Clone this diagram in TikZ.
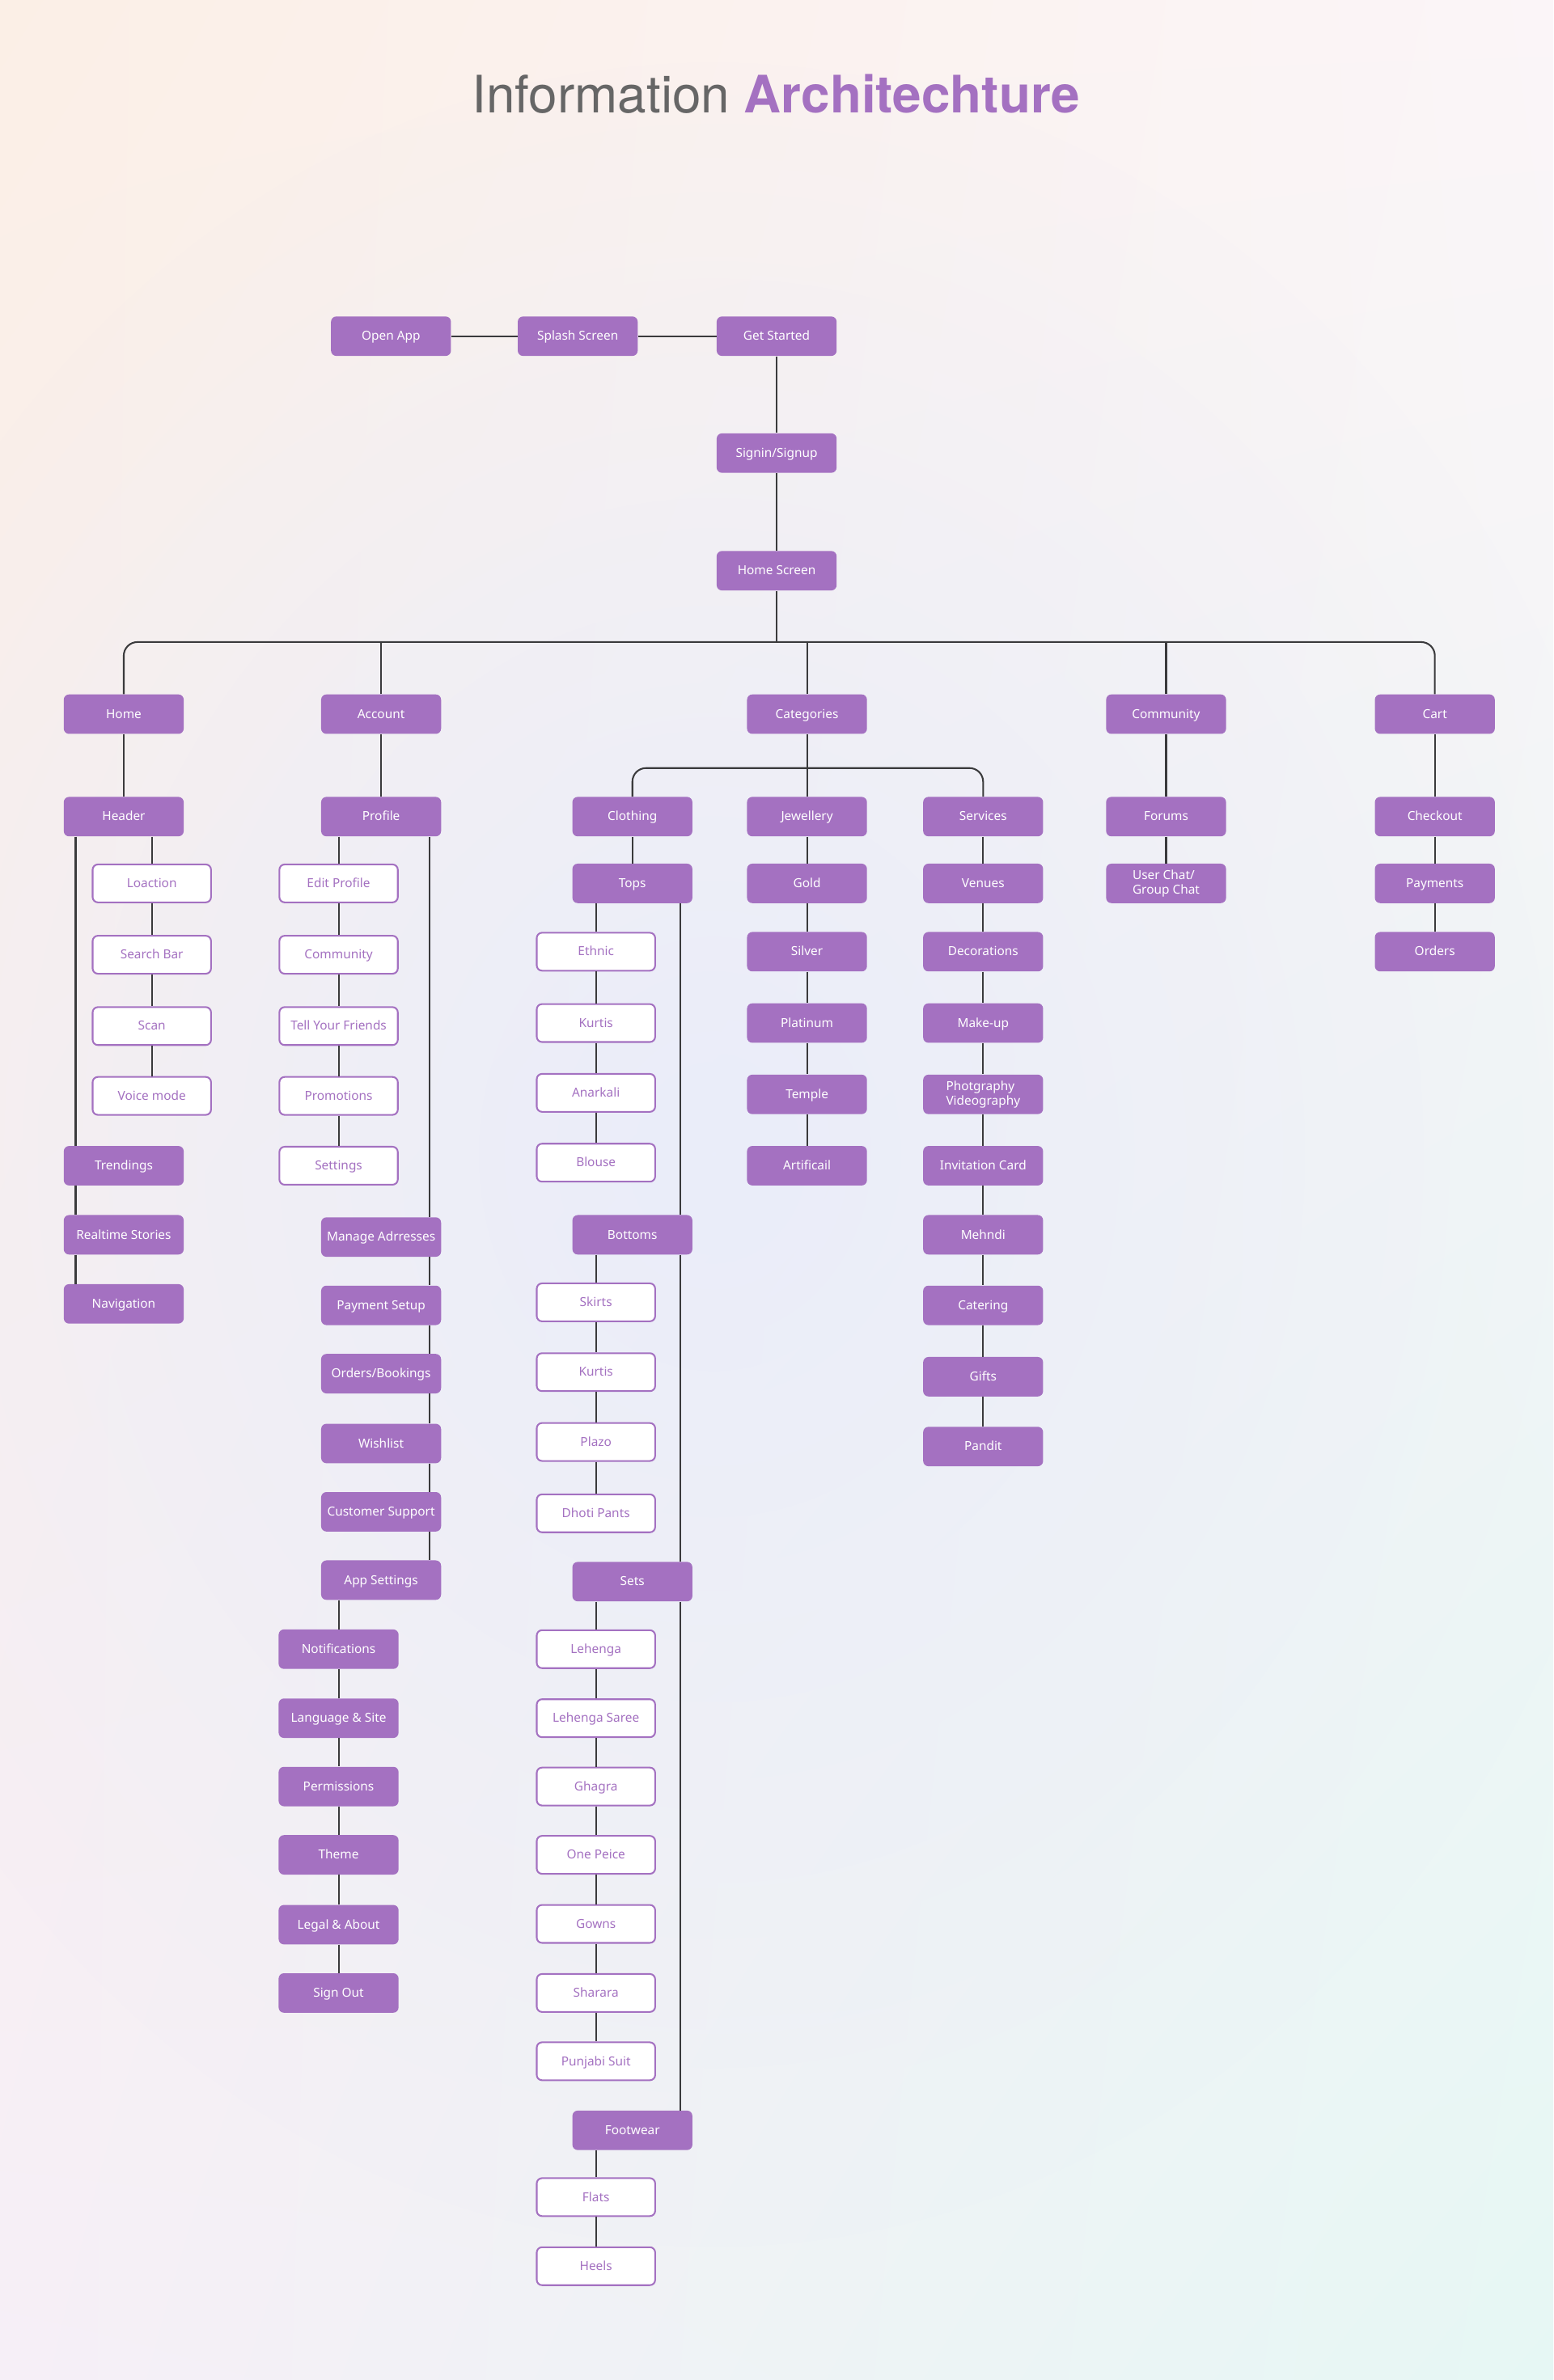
\documentclass[tikz,border=0pt]{standalone}
\usepackage{fontspec}
\setmainfont{Noto Sans}
\newfontfamily\titlefont{TeX Gyre Heros}
\usepackage{tikz}
\usetikzlibrary{calc,positioning,fadings,shadings}
\definecolor{iapurple}{RGB}{164,113,193}
\definecolor{ialine}{RGB}{58,58,60}
\definecolor{iagray}{RGB}{102,102,102}
\definecolor{bgul}{RGB}{251,239,230}
\definecolor{bgur}{RGB}{251,245,248}
\definecolor{bgll}{RGB}{246,239,247}
\definecolor{bglr}{RGB}{230,247,244}
\definecolor{bglav}{RGB}{234,237,250}
\tikzfading[name=iaglow, inner color=transparent!0, outer color=transparent!100]

\begin{document}
\begin{tikzpicture}[x=1pt,y=-1pt,
  pbox/.style={rectangle,rounded corners=3.5pt,fill=iapurple,text=white,minimum width=79pt,
    minimum height=26pt,inner sep=1pt,align=left,text height=6.4pt,text depth=0.9pt,
    font=\fontsize{8.2}{9.4}\selectfont},
  wbox/.style={pbox,fill=white,draw=iapurple,line width=1.1pt,text=iapurple,
    minimum width=78pt,minimum height=25pt},
  twoline/.style={text height={},text depth={}},
  link/.style={draw=ialine,line width=1.1pt}]
 % page and background
 \useasboundingbox (0,0) rectangle (1023,1568);
 \shade[upper left=bgul,upper right=bgur,lower left=bgll,lower right=bglr] (0,0) rectangle (1023,1568);
 \fill[bglav,path fading=iaglow] (470,760) ellipse (620 and 720);
 \node (title) at (511,62) {\titlefont\fontsize{34}{40}\selectfont
   \textcolor{iagray}{Information} \textcolor{iapurple}{\bfseries Architechture}};

 % entry
 \node[pbox] (open) at (257.5,221.5) {Open App};
 \node[pbox] (splash) at (380.5,221.5) {Splash Screen};
 \node[pbox] (start) at (511.5,221.5) {Get Started};
 \node[pbox] (sign) at (511.5,298.5) {Signin/Signup};
 \node[pbox] (hs) at (511.5,376) {Home Screen};
 \draw[link] (open) -- (splash) (splash) -- (start) (start) -- (sign) (sign) -- (hs);

 % main sections
 \coordinate (bus) at (0,423);
 \node[pbox] (home) at (81.5,470.5) {Home};
 \node[pbox] (acc) at (251,470.5) {Account};
 \node[pbox] (cat) at (531.5,470.5) {Categories};
 \node[pbox] (com) at (768,470.5) {Community};
 \node[pbox] (cart) at (945,470.5) {Cart};
 \draw[link,rounded corners=9pt] (home.north) |- (bus -| cart.north) -- (cart.north);
 \foreach \n in {acc,cat,com}
   \draw[link] (\n.north) -- (\n.north |- bus);
 \draw[link] (hs.south) -- (hs.south |- bus);

 % home
 \node[pbox] (hdr) at (81.5,538) {Header};
 \draw[link] (home) -- (hdr);
 \foreach \t/\n/\y in {Loaction/loc/582,Search Bar/srch/629,Scan/scan/676,Voice mode/voice/722}
   \node[wbox] (\n) at (100,\y) {\t};
 \foreach \t/\n/\y in {Trendings/trend/768,Realtime Stories/story/813.5,Navigation/navi/859}
   \node[pbox] (\n) at (81.5,\y) {\t};
 \draw[link] (hdr.south -| loc.north) -- (loc.north);
 \foreach \a/\b in {loc/srch,srch/scan,scan/voice}
   \draw[link] (\a) -- (\b);
 \foreach \a/\b in {hdr/trend,trend/story,story/navi}
   \draw[link] ([xshift=8pt]\a.south west) -- ([xshift=8pt]\b.north west);

 % account
 \node[pbox] (prof) at (251,538) {Profile};
 \draw[link] (acc) -- (prof);
 \foreach \t/\n/\y in {Edit Profile/edit/582,Community/comm/629,Tell Your Friends/tell/676,
     Promotions/promo/722,Settings/sett/768}
   \node[wbox] (\n) at (223,\y) {\t};
 \foreach \t/\n/\y in {Manage Adrresses/addr/815,Payment Setup/pay/860,{Orders/Bookings}/ordb/905,
     Wishlist/wish/951,Customer Support/supp/996,App Settings/apps/1041}
   \node[pbox] (\n) at (251,\y) {\t};
 \foreach \t/\n/\y in {Notifications/noti/1086.5,Language \& Site/lang/1132,Permissions/perm/1177,
     Theme/theme/1222,Legal \& About/legal/1268,Sign Out/out/1313}
   \node[pbox] (\n) at (223,\y) {\t};
 \draw[link] (prof.south -| edit.north) -- (edit.north);
 \foreach \a/\b in {edit/comm,comm/tell,tell/promo,promo/sett,noti/lang,lang/perm,perm/theme,theme/legal,legal/out}
   \draw[link] (\a) -- (\b);
 \foreach \a/\b in {prof/addr,addr/pay,pay/ordb,ordb/wish,wish/supp,supp/apps}
   \draw[link] ([xshift=-8pt]\a.south east) -- ([xshift=-8pt]\b.north east);
 \draw[link] (apps.south -| noti.north) -- (noti.north);

 % categories
 \coordinate (sbus) at (0,506);
 \node[pbox] (clo) at (416.5,538) {Clothing};
 \node[pbox] (jew) at (531.5,538) {Jewellery};
 \node[pbox] (srv) at (647.5,538) {Services};
 \draw[link,rounded corners=9pt] (clo.north) |- (sbus -| srv.north) -- (srv.north);
 \draw[link] (cat) -- (jew);
 \node[pbox] (tops) at (416.5,582) {Tops};
 \node[pbox] (bot) at (416.5,813.5) {Bottoms};
 \node[pbox] (sets) at (416.5,1042) {Sets};
 \node[pbox] (foot) at (416.5,1403.5) {Footwear};
 \draw[link] (clo) -- (tops);
 \foreach \a/\b in {tops/bot,bot/sets,sets/foot}
   \draw[link] ([xshift=-8pt]\a.south east) -- ([xshift=-8pt]\b.north east);
 \foreach \t/\n/\y in {Ethnic/eth/627,Kurtis/kur/674,Anarkali/ana/720,Blouse/blo/766,
     Skirts/skirt/858,Kurtis/kurb/904,Plazo/plazo/950,Dhoti Pants/dhoti/997,
     Lehenga/leh/1086.5,Lehenga Saree/lehs/1132,Ghagra/ghag/1177,One Peice/onep/1222,
     Gowns/gown/1267.5,Sharara/shar/1313,Punjabi Suit/punj/1358,Flats/flat/1447.5,Heels/heel/1493}
   \node[wbox] (\n) at (392.5,\y) {\t};
 \draw[link] (tops.south -| eth.north) -- (eth.north);
 \draw[link] (bot.south -| skirt.north) -- (skirt.north);
 \draw[link] (sets.south -| leh.north) -- (leh.north);
 \draw[link] (foot.south -| flat.north) -- (flat.north);
 \foreach \a/\b in {eth/kur,kur/ana,ana/blo,skirt/kurb,kurb/plazo,plazo/dhoti,leh/lehs,lehs/ghag,
     ghag/onep,onep/gown,gown/shar,shar/punj,flat/heel}
   \draw[link] (\a) -- (\b);

 \foreach \t/\n/\y in {Gold/gold/582,Silver/silv/627,Platinum/plat/674,Temple/temp/721,Artificail/arti/768}
   \node[pbox] (\n) at (531.5,\y) {\t};
 \foreach \a/\b in {jew/gold,gold/silv,silv/plat,plat/temp,temp/arti}
   \draw[link] (\a) -- (\b);

 \foreach \t/\n/\y in {Venues/ven/582,Decorations/deco/627,Make-up/make/674,
     Invitation Card/invi/768,Mehndi/mehn/813.5,Catering/cater/860,Gifts/gift/907,Pandit/pand/953}
   \node[pbox] (\n) at (647.5,\y) {\t};
 \node[pbox,twoline] (photo) at (647.5,721) {Photgraphy\\Videography};
 \foreach \a/\b in {srv/ven,ven/deco,deco/make,make/photo,photo/invi,invi/mehn,mehn/cater,cater/gift,gift/pand}
   \draw[link] (\a) -- (\b);

 % community and cart
 \node[pbox] (forum) at (768,538) {Forums};
 \node[pbox,twoline] (chat) at (768,582) {User Chat/\\Group Chat};
 \draw[link] (com) -- (forum) (forum) -- (chat);
 \node[pbox] (chk) at (945,538) {Checkout};
 \node[pbox] (paym) at (945,582) {Payments};
 \node[pbox] (ord) at (945,627) {Orders};
 \draw[link] (cart) -- (chk) (chk) -- (paym) (paym) -- (ord);
\end{tikzpicture}
\end{document}
